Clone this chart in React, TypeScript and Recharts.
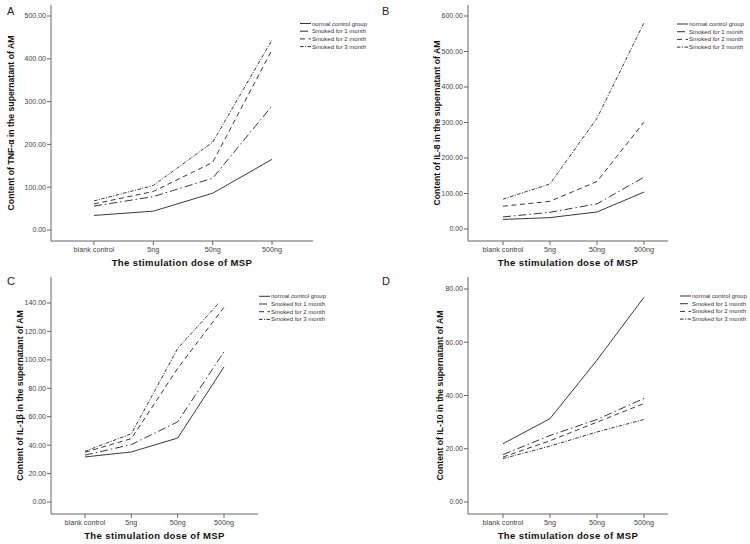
import { LineChart, Line, XAxis, YAxis } from 'recharts';

const categories = ['blank control', '5ng', '50ng', '500ng'];
const seriesNames = ['normal control group', 'Smoked for 1 month', 'Smoked for 2 month', 'Smoked for 3 month'];
const dashes = ['', '8 3 1.5 3', '5 3.5', '3.5 1.5 1 1.5'];

// A - TNF-α
const tnfNormal = [34, 44, 86, 165];
const tnfSmoke1 = [56, 78, 121, 290];
const tnfSmoke2 = [61, 90, 158, 421];
const tnfSmoke3 = [68, 104, 205, 444];
const tnfTicks = [0, 100, 200, 300, 400, 500];

// B - IL-8
const il8Normal = [27, 32, 48, 104];
const il8Smoke1 = [34, 47, 71, 146];
const il8Smoke2 = [64, 78, 134, 301];
const il8Smoke3 = [84, 127, 312, 581];
const il8Ticks = [0, 100, 200, 300, 400, 500, 600];

// C - IL-1β
const il1bNormal = [31.7, 35.2, 45, 95];
const il1bSmoke1 = [33, 40.4, 56.4, 105.7];
const il1bSmoke2 = [35, 44.6, 94, 137];
const il1bSmoke3 = [35.7, 48, 108, 144];
const il1bTicks = [0, 20, 40, 60, 80, 100, 120, 140];

// D - IL-10
const il10Normal = [21.9, 31.3, 53.3, 76.9];
const il10Smoke1 = [17.8, 25, 31, 38.9];
const il10Smoke2 = [16.9, 23, 30, 37];
const il10Smoke3 = [16.3, 21, 26.3, 31];
const il10Ticks = [0, 20, 40, 60, 80];

interface PanelProps {
  left: number;
  top: number;
  letter: string;
  letterY: number;
  yLabel: string;
  yLabelX: number;
  series: number[][];
  ticks: number[];
  yAxisWidth: number;
  marginRight: number;
  padTop: number;
  padBottom: number;
  padLeft: number;
  padRight: number;
  xAxisHeight: number;
  titleOffset: number;
  legendX: number;
  legendY: number;
}

const DoseTick = ({ x, y, payload }: any) => (
  <text x={x} y={y + 6.5} textAnchor="middle" fontSize={7.2} fill="#444">
    {payload.value}
  </text>
);

const Panel = (p: PanelProps) => {
  const data = categories.map((dose, i) => {
    const row: Record<string, string | number> = { dose };
    p.series.forEach((s, k) => {
      row[`s${k}`] = s[i];
    });
    return row;
  });

  return (
    <div style={{ position: 'absolute', left: p.left, top: p.top, width: 375, height: 272 }}>
      <LineChart width={375} height={272} data={data} margin={{ top: 5, right: p.marginRight, bottom: 0, left: 0 }}>
        <XAxis
          dataKey="dose"
          scale="point"
          interval={0}
          padding={{ left: p.padLeft, right: p.padRight }}
          height={p.xAxisHeight}
          stroke="#666"
          tickSize={4}
          tickMargin={0}
          tick={<DoseTick />}
          label={{
            value: 'The stimulation dose of MSP',
            position: 'insideBottom',
            offset: p.titleOffset,
            style: { fontSize: 9.5, fontWeight: 'bold', fill: '#111', letterSpacing: 0.4, textAnchor: 'middle' },
          }}
        />
        <YAxis
          width={p.yAxisWidth}
          type="number"
          domain={[0, p.ticks[p.ticks.length - 1]]}
          ticks={p.ticks}
          allowDataOverflow
          interval={0}
          padding={{ top: p.padTop, bottom: p.padBottom }}
          stroke="#666"
          tickSize={4}
          tickMargin={1}
          tick={{ fontSize: 7, fill: '#444' }}
          tickFormatter={(v: number) => v.toFixed(2)}
          label={{
            value: p.yLabel,
            angle: -90,
            position: 'insideLeft',
            offset: p.yLabelX,
            style: { fontSize: 8.7, fontWeight: 'bold', fill: '#111', textAnchor: 'middle' },
          }}
        />
        {p.series.map((_s, k) => (
          <Line
            key={k}
            type="linear"
            dataKey={`s${k}`}
            stroke="#3a3a3a"
            strokeWidth={1}
            strokeDasharray={dashes[k] || undefined}
            dot={false}
            activeDot={false}
            isAnimationActive={false}
          />
        ))}
      </LineChart>
      <svg
        width={375}
        height={272}
        style={{ position: 'absolute', left: 0, top: 0, overflow: 'visible', pointerEvents: 'none' }}
      >
        <text x={7} y={p.letterY} fontSize={11} fill="#222">
          {p.letter}
        </text>
        {seriesNames.map((name, k) => (
          <g key={name}>
            <line
              x1={p.legendX}
              x2={p.legendX + 11}
              y1={p.legendY + k * 7.7}
              y2={p.legendY + k * 7.7}
              stroke="#333"
              strokeWidth={1}
              strokeDasharray={dashes[k] || undefined}
            />
            <text x={p.legendX + 12} y={p.legendY + k * 7.7 + 2} fontSize={6} fill="#333">
              {name}
            </text>
          </g>
        ))}
      </svg>
    </div>
  );
};

export default function App() {
  return (
    <div
      style={{
        position: 'absolute',
        left: 0,
        top: 0,
        width: 750,
        height: 544,
        background: '#fff',
        fontFamily: '"Liberation Sans", Arial, sans-serif',
      }}
    >
      <Panel
        left={0}
        top={0}
        letter="A"
        letterY={15}
        yLabel="Content of TNF-α in the supernatant of AM"
        yLabelX={11}
        series={[tnfNormal, tnfSmoke1, tnfSmoke2, tnfSmoke3]}
        ticks={tnfTicks}
        yAxisWidth={51}
        marginRight={62}
        padTop={11}
        padBottom={11}
        padLeft={43}
        padRight={41}
        xAxisHeight={31}
        titleOffset={6}
        legendX={300}
        legendY={23.5}
      />
      <Panel
        left={375}
        top={0}
        letter="B"
        letterY={15}
        yLabel="Content of IL-8 in the supernatant of AM"
        yLabelX={62}
        series={[il8Normal, il8Smoke1, il8Smoke2, il8Smoke3]}
        ticks={il8Ticks}
        yAxisWidth={93}
        marginRight={82}
        padTop={11}
        padBottom={12}
        padLeft={35}
        padRight={24}
        xAxisHeight={31}
        titleOffset={6}
        legendX={302}
        legendY={24}
      />
      <Panel
        left={0}
        top={272}
        letter="C"
        letterY={13}
        yLabel="Content of IL-1β in the supernatant of AM"
        yLabelX={20}
        series={[il1bNormal, il1bSmoke1, il1bSmoke2, il1bSmoke3]}
        ticks={il1bTicks}
        yAxisWidth={51}
        marginRight={117}
        padTop={26}
        padBottom={12}
        padLeft={34}
        padRight={34}
        xAxisHeight={30}
        titleOffset={5.5}
        legendX={259}
        legendY={24.3}
      />
      <Panel
        left={375}
        top={272}
        letter="D"
        letterY={13}
        yLabel="Content of  IL-10 in the supernatant of AM"
        yLabelX={65}
        series={[il10Normal, il10Smoke1, il10Smoke2, il10Smoke3]}
        ticks={il10Ticks}
        yAxisWidth={93}
        marginRight={82}
        padTop={12}
        padBottom={12}
        padLeft={35}
        padRight={24}
        xAxisHeight={30}
        titleOffset={5.5}
        legendX={305}
        legendY={24}
      />
    </div>
  );
}
